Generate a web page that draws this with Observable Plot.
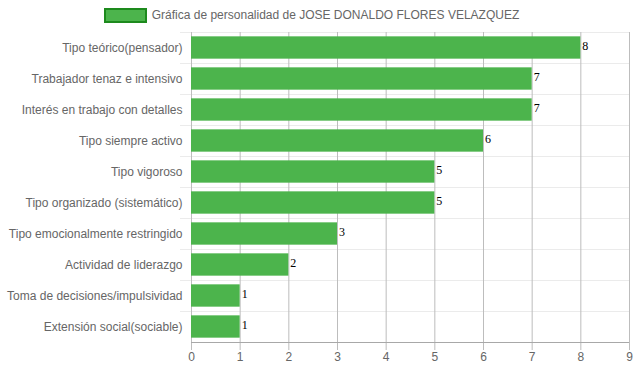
<!DOCTYPE html>
<html>
<head>
<meta charset="utf-8">
<script src="https://cdn.jsdelivr.net/npm/d3@7"></script>
<script src="https://cdn.jsdelivr.net/npm/@observablehq/plot@0.6"></script>
<style>
  html, body { margin: 0; padding: 0; background: #fff; }
  #legend { height: 28px; box-sizing: border-box; padding-top: 8px; padding-right: 14px; display: flex; justify-content: center; align-items: flex-start;
    font-family: "Liberation Sans", Arial, Helvetica, sans-serif; font-size: 12px; color: #666; }
  #legend .box { width: 43px; height: 15px; box-sizing: border-box; background: #4cb44c; border: 2px solid #1d8a1d; margin-right: 5px; }
  #legend .txt { line-height: 15px; }
</style>
</head>
<body>
<div id="legend"><span class="box"></span><span class="txt">Gráfica de personalidad de JOSE DONALDO FLORES VELAZQUEZ</span></div>
<div id="chart"></div>
<script>
const categories = [
  "Tipo teórico(pensador)",
  "Trabajador tenaz e intensivo",
  "Interés en trabajo con detalles",
  "Tipo siempre activo",
  "Tipo vigoroso",
  "Tipo organizado (sistemático)",
  "Tipo emocionalmente restringido",
  "Actividad de liderazgo",
  "Toma de decisiones/impulsividad",
  "Extensión social(sociable)"
];
const values = [8, 7, 7, 6, 5, 5, 3, 2, 1, 1];
const xTicks = [0, 1, 2, 3, 4, 5, 6, 7, 8, 9];

const data = categories.map((c, i) => ({category: c, value: values[i]}));

const W = 637, H = 343, mT = 4, mB = 29, mL = 191, mR = 8;
const step = (H - mT - mB) / categories.length;

const chart = Plot.plot({
  width: W,
  height: H,
  marginTop: mT,
  marginBottom: mB,
  marginLeft: mL,
  marginRight: mR,
  style: {fontFamily: "'Liberation Sans', Arial, Helvetica, sans-serif", fontSize: "12px", color: "#666", background: "#fff"},
  x: {domain: [0, 9], ticks: xTicks},
  y: {domain: categories, paddingInner: 0.28, paddingOuter: 0.14, round: false},
  marks: [
    Plot.ruleY(categories, {y: d => d, dy: -step / 2, stroke: "#ebebeb", strokeWidth: 1, insetLeft: -11}),
    Plot.ruleX(xTicks, {x: d => d, stroke: "#bdbdbd", strokeWidth: 1, insetBottom: -8}),
    Plot.ruleY([categories[categories.length - 1]], {y: d => d, dy: step / 2, stroke: "#a8a8a8", strokeWidth: 1}),
    Plot.barX(data, {y: "category", x: "value", fill: "#4cb44c"}),
    Plot.text(data, {y: "category", x: "value", text: d => String(d.value), textAnchor: "start", dx: 1.5, dy: -2,
      fill: "#000", fontFamily: "'Liberation Serif', 'Times New Roman', serif", fontSize: 12}),
    Plot.axisY({tickSize: 0, tickPadding: 9, label: null, fill: "#666"}),
    Plot.axisX({tickSize: 0, tickPadding: 10, label: null, fill: "#666", ticks: xTicks, tickFormat: d => String(d)})
  ]
});
document.getElementById("chart").appendChild(chart);
</script>
</body>
</html>
